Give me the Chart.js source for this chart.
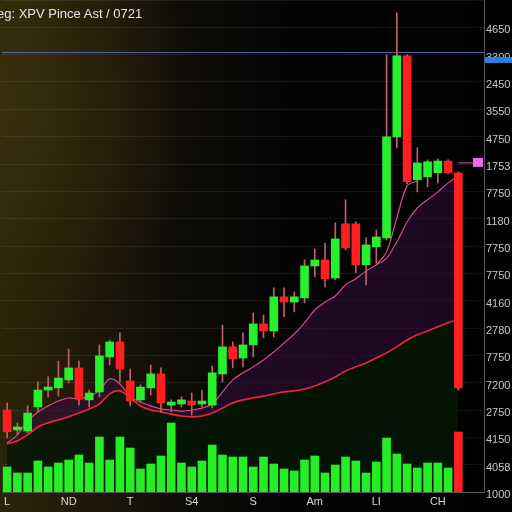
<!DOCTYPE html>
<html>
<head>
<meta charset="utf-8">
<script src="https://cdn.jsdelivr.net/npm/chart.js@4.4.1/dist/chart.umd.min.js"></script>
<style>
  html, body { margin: 0; padding: 0; background: #000; }
  #wrap {
    position: relative; width: 512px; height: 512px; overflow: hidden;
    background:
      radial-gradient(ellipse 40% 45% at 0% 20%, rgba(70, 58, 16, 0.55) 0%, rgba(0,0,0,0) 100%),
      linear-gradient(90deg, #2c2409 0%, #1d1808 18%, #0e0c06 35%, #050505 55%, #000 100%);
  }
  #title {
    position: absolute; left: -3px; top: 6px; white-space: nowrap;
    font: 13px "Liberation Sans", Arial, sans-serif; color: #e4e4e4;
  }
  canvas { position: absolute; left: 0; top: 0; }
</style>
</head>
<body>
<div id="wrap">
  <canvas id="chart" width="512" height="512"></canvas>
  <div id="title">eg: XPV Pince Ast / 0721</div>
</div>
<script>
// candles (price units)
const opens  = [300, 227, 223, 311, 373, 381, 410, 454, 337, 366, 494, 549, 406, 337, 381, 432, 318, 322, 333, 322,
                318, 432, 531, 490, 538, 615, 589, 714, 695, 710, 827, 849, 783, 981, 981, 831, 897, 930, 1299, 1596,
                1142, 1153, 1168, 1211, 1168];
const highs  = [326, 253, 315, 403, 421, 479, 523, 479, 373, 538, 556, 582, 450, 392, 465, 454, 337, 348, 362, 373,
                461, 611, 549, 582, 655, 648, 747, 747, 732, 849, 889, 911, 985, 1069, 988, 930, 959, 1599, 1753, 1600,
                1259, 1215, 1219, 1215, 1171];
const lows   = [198, 209, 216, 293, 348, 351, 399, 318, 311, 348, 465, 403, 315, 329, 355, 293, 293, 311, 282, 311,
                307, 403, 454, 458, 494, 564, 567, 641, 659, 692, 787, 750, 776, 886, 802, 758, 838, 922, 1259, 1127,
                1098, 1116, 1131, 1164, 373];
const closes = [220, 238, 289, 373, 384, 417, 454, 340, 362, 498, 549, 450, 333, 384, 432, 326, 329, 337, 318, 333,
                436, 531, 487, 538, 615, 589, 714, 695, 714, 827, 849, 780, 926, 893, 831, 904, 933, 1299, 1596, 1135,
                1204, 1208, 1211, 1168, 381];
const volumes = [2500, 1900, 1900, 3100, 2500, 2900, 3200, 3700, 2900, 5500, 3200, 5500, 4400, 2300, 2800, 3600, 6900, 2900, 2500, 3100,
                 4700, 3700, 3500, 3500, 2500, 3500, 2800, 2300, 2100, 3200, 3600, 1900, 2700, 3500, 3100, 1900, 3000, 5400, 3800, 2800,
                 2400, 2900, 2900, 2400, 6000];
const maFast = [179, 209, 260, 293, 315, 333, 344, 340, 351, 370, 414, 395, 348, 329, 315, 304, 300, 296, 300, 307,
                322, 366, 410, 436, 458, 483, 512, 545, 578, 619, 666, 695, 717, 758, 780, 809, 831, 856, 915, 988,
                1039, 1069, 1098, 1131, 1157];
const maSlow = [176, 187, 209, 238, 253, 264, 275, 289, 304, 322, 359, 370, 344, 315, 300, 293, 285, 278, 275, 278,
                289, 307, 326, 337, 344, 351, 359, 366, 370, 377, 388, 403, 421, 443, 458, 472, 490, 509, 531, 556,
                575, 589, 604, 619, 630];
const maSpike = [null, null, null, null, null, null, null, null, null, null, null, null, null, null, null, null, null, null, null, null,
                 null, null, null, null, null, null, null, null, null, null, null, null, null, null, null, null, 831, 878, 1003, 1120,
                 1138, null, null, null, null];
const xTickLabels = ['L', 'ND', 'T', 'S4', 'S', 'Am', 'LI', 'CH'];
const yTickLabels = ['1000', '4058', '4150', '2750', '7200', '7750', '2780', '4160', '7750', '7750',
                     '1180', '7750', '1753', '4750', '3550', '2450', '3300', '4650'];
const guideLevel = 1610;
const lastPrice = 1204;

const slots = opens.length + 2;
const labels = Array.from({ length: slots }, (_, i) => i);

const GREEN = '#27f02c';
const RED = '#ff1f1f';
const candleColors = opens.map((o, i) => closes[i] >= o ? GREEN : RED);
const volColors = volumes.map((v, i) => i === volumes.length - 1 ? RED : '#25ee25');

const overlay = {
  id: 'overlay',
  beforeDatasetsDraw(chart) {
    const { ctx, chartArea, scales } = chart;
    const y = scales.y.getPixelForValue(guideLevel);
    ctx.save();
    ctx.strokeStyle = '#5363a0';
    ctx.lineWidth = 1;
    ctx.beginPath();
    ctx.moveTo(chartArea.left, Math.round(y) + 0.5);
    ctx.lineTo(chartArea.right, Math.round(y) + 0.5);
    ctx.stroke();
    ctx.restore();
  },
  afterDraw(chart) {
    const { ctx, chartArea, scales } = chart;
    ctx.save();
    // highlighted axis box under the guide line
    const gy = scales.y.getPixelForValue(guideLevel);
    ctx.fillStyle = '#2b7fe9';
    ctx.fillRect(chartArea.right + 1, gy + 5, 40, 6);
    // last price line + marker
    const py = scales.y.getPixelForValue(lastPrice);
    const px = scales.x.getPixelForValue(opens.length - 1);
    ctx.strokeStyle = '#d860c8';
    ctx.lineWidth = 1;
    ctx.beginPath();
    ctx.moveTo(px, py);
    ctx.lineTo(chartArea.right - 8, py);
    ctx.stroke();
    ctx.fillStyle = '#ec6cec';
    ctx.fillRect(chartArea.right - 11, py - 5, 10, 9);
    ctx.restore();
  }
};

new Chart(document.getElementById('chart'), {
  type: 'bar',
  data: {
    labels: labels,
    datasets: [
      {
        type: 'line', data: maFast, yAxisID: 'y', order: 10,
        borderColor: '#d44a8c', borderWidth: 1.2, pointRadius: 0, tension: 0.35,
        fill: { target: 1 }, backgroundColor: 'rgba(52, 12, 60, 0.55)'
      },
      {
        type: 'line', data: maSlow, yAxisID: 'y', order: 9,
        borderColor: '#e8243e', borderWidth: 1.7, pointRadius: 0, tension: 0.35,
        fill: 'origin', backgroundColor: 'rgba(6, 22, 6, 0.85)'
      },
      {
        type: 'line', data: maSpike, yAxisID: 'y', order: 8,
        borderColor: '#d8509a', borderWidth: 1.2, pointRadius: 0, tension: 0.3, fill: false
      },
      {
        data: volumes, yAxisID: 'yv', order: 5, grouped: false,
        backgroundColor: volColors, barThickness: 8
      },
      {
        data: lows.map((l, i) => [l, highs[i]]), yAxisID: 'y', order: 3, grouped: false,
        backgroundColor: '#c0606c', barThickness: 1
      },
      {
        data: opens.map((o, i) => [o, closes[i]]), yAxisID: 'y', order: 2, grouped: false,
        backgroundColor: candleColors, barThickness: 8, minBarLength: 2
      }
    ]
  },
  options: {
    responsive: false,
    animation: false,
    layout: { padding: { left: 2, top: 0, right: 0, bottom: 0 } },
    plugins: {
      legend: { display: false },
      tooltip: { enabled: false }
    },
    scales: {
      x: {
        grid: { display: false, drawTicks: false },
        border: { display: true, color: '#555' },
        ticks: {
          autoSkip: false, maxRotation: 0, padding: 3,
          color: '#d8d8d8', font: { family: 'Liberation Sans', size: 11 },
          callback: (v, i) => (i % 6 === 0 && xTickLabels[i / 6]) ? xTickLabels[i / 6] : ''
        },
        afterFit: s => { s.height = 20; s.paddingLeft = 0; s.paddingRight = 0; }
      },
      y: {
        position: 'right', min: 0, max: 1800,
        grid: { color: 'rgba(255,255,255,0.07)', drawTicks: false },
        border: { display: true, color: '#555' },
        ticks: {
          stepSize: 100, padding: 2, labelOffset: 3,
          color: '#c8c8c8', font: { family: 'Liberation Sans', size: 11 },
          callback: v => yTickLabels[Math.round(v / 100)] || ''
        },
        afterFit: s => { s.width = 28; s.paddingTop = 0; s.paddingBottom = 0; }
      },
      yv: {
        display: false, min: 0, max: 49200
      }
    }
  },
  plugins: [overlay]
});
</script>
</body>
</html>
